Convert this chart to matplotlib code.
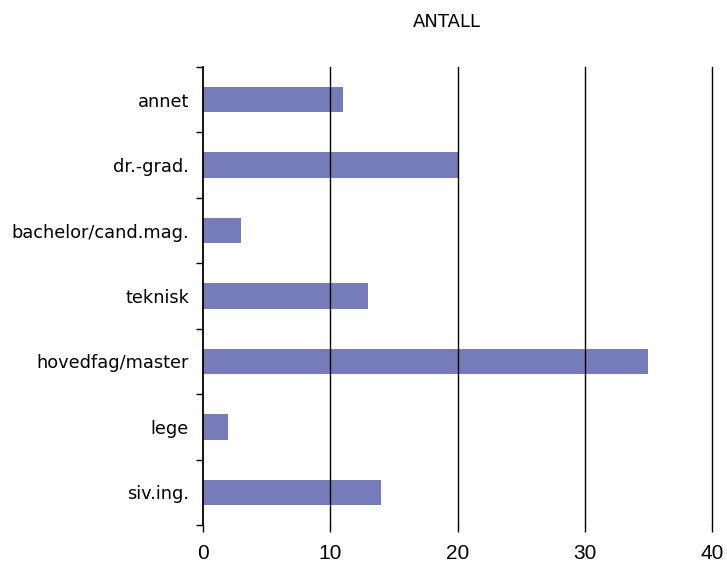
import numpy as np
import matplotlib.pyplot as plt

categories = ['annet', 'dr.-grad.', 'bachelor/cand.mag.', 'teknisk',
              'hovedfag/master', 'lege', 'siv.ing.']
counts = [11, 20, 3, 13, 35, 2, 14]
xticks = [0, 10, 20, 30, 40]

fig = plt.figure(figsize=(7.27, 5.64), dpi=100)
ax = fig.add_axes([203 / 727, 1 - 525 / 564, 509 / 727, 458 / 564])

pos = np.arange(len(categories))
ax.barh(pos, counts, height=0.39, color='#767bba', zorder=1)

ax.set_xlim(0, 40)
ax.set_ylim(len(categories) - 0.5, -0.5)

# vertical grid lines in black, drawn above the bars
for x in xticks[1:]:
    ax.axvline(x, color='black', lw=1.0, zorder=2, clip_on=False)

for side in ['top', 'right', 'bottom']:
    ax.spines[side].set_visible(False)
ax.spines['left'].set_linewidth(1.3)
ax.spines['left'].set_zorder(3)

ax.set_yticks(pos)
ax.set_yticklabels(categories, fontsize=12.8, family='DejaVu Sans')
ax.tick_params(axis='y', which='major', length=0, pad=10)
ax.set_yticks(np.arange(-0.5, len(categories)), minor=True)
ax.tick_params(axis='y', which='minor', length=5, width=1.0, direction='out')

ax.set_xticks(xticks)
ax.set_xticklabels([str(v) for v in xticks], fontsize=15, family='Liberation Sans')
ax.tick_params(axis='x', length=5, width=1.0, direction='out', pad=9)

fig.text(447 / 727, 1 - 22 / 564, 'ANTALL', ha='center', va='center',
         fontsize=13, family='DejaVu Sans')

fig.savefig('out.png', dpi=100)
